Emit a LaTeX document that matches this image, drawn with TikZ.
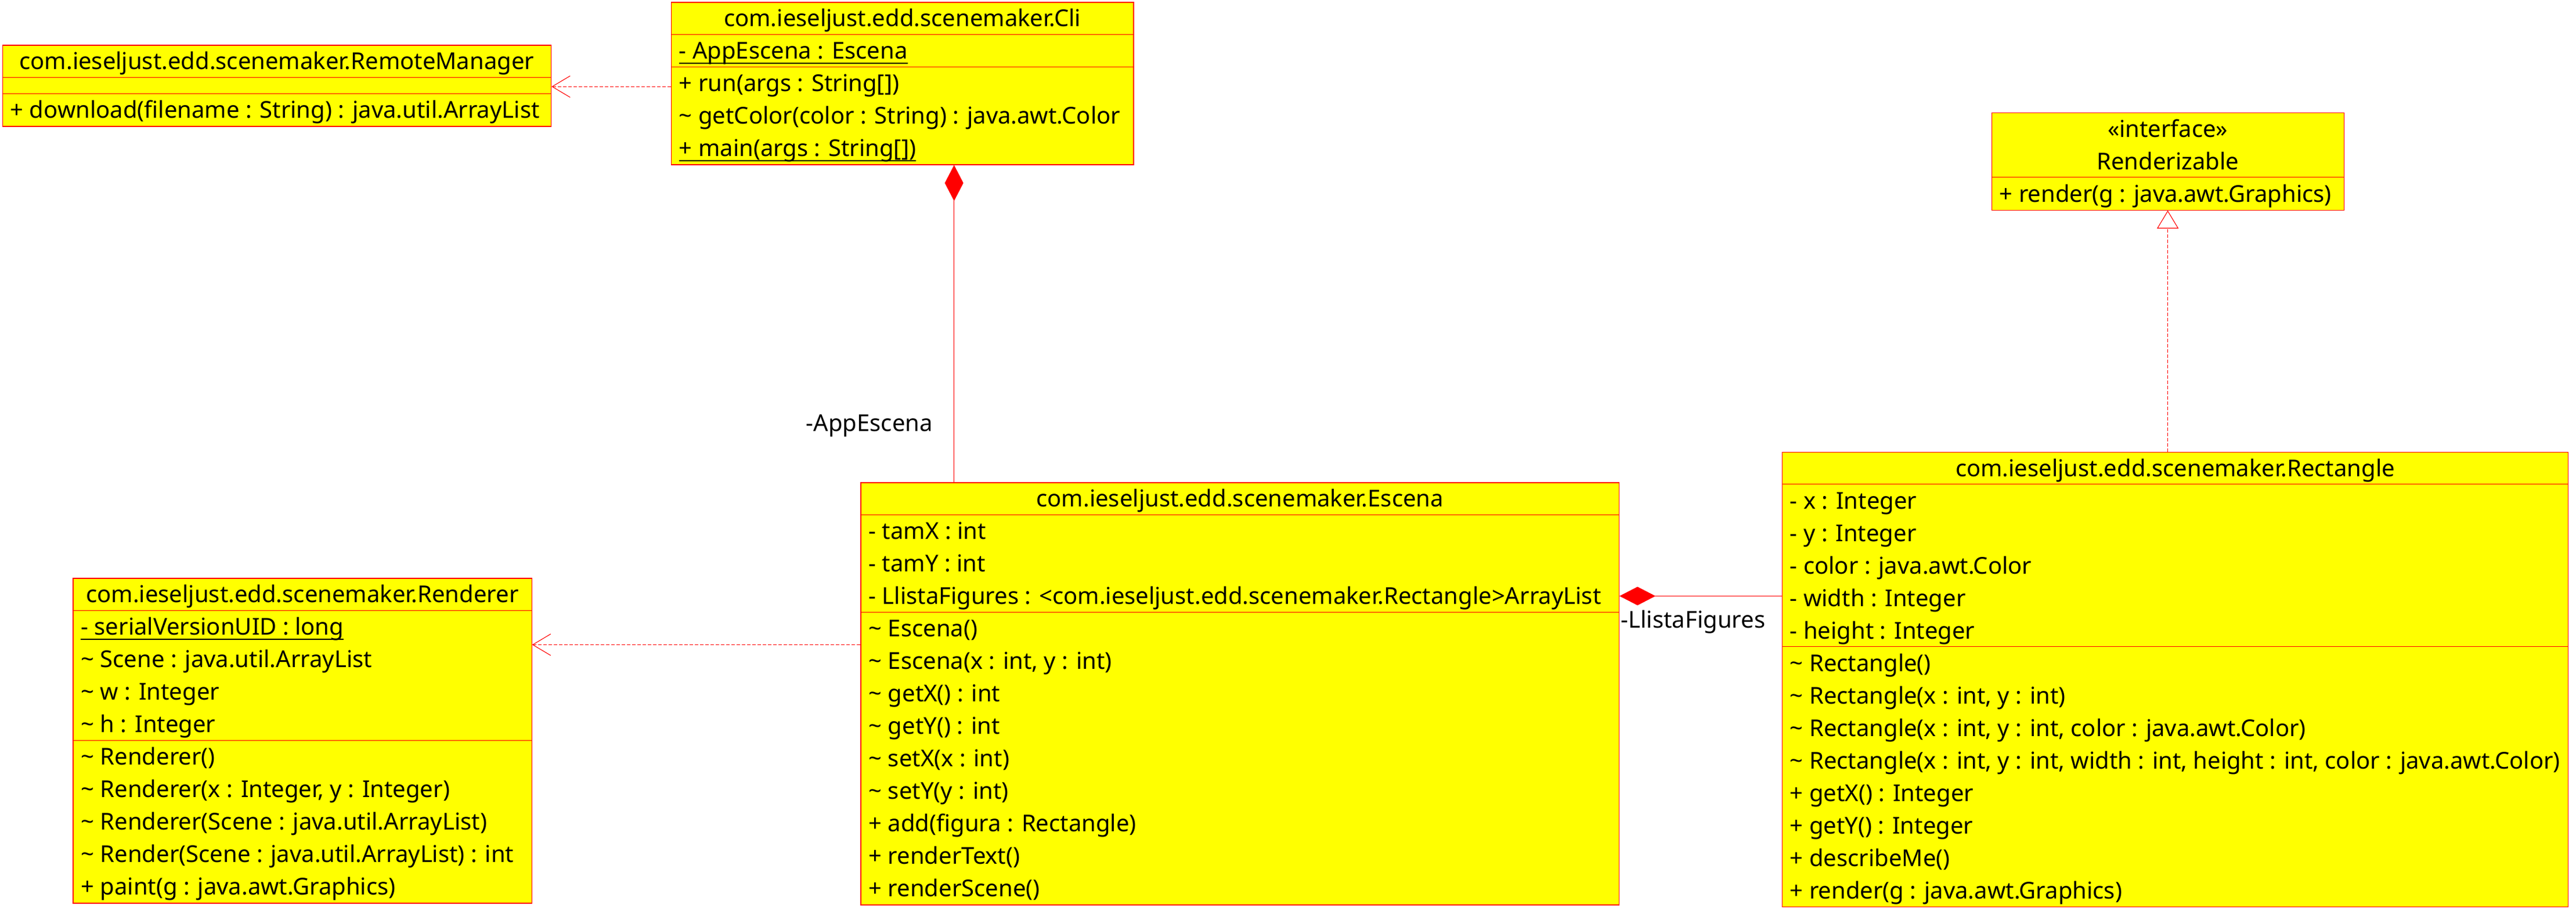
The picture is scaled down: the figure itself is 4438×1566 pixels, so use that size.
\documentclass[tikz,border=0pt]{standalone}
\usepackage{fontspec}
\setmainfont{Noto Sans}
\usetikzlibrary{arrows.meta,calc}
\definecolor{umlred}{RGB}{255,0,0}
\definecolor{umlyellow}{RGB}{255,255,0}
\tikzset{
  cls/.style={draw=umlred, fill=umlyellow, line width=1.2pt, rectangle, inner sep=0pt, anchor=north west},
  sepline/.style={draw=umlred, line width=1.2pt},
  hd/.style={anchor=base, inner sep=0pt, text=black},
  rw/.style={anchor=base west, inner sep=0pt, text=black},
  lbl/.style={inner sep=0pt, text=black},
  ulline/.style={draw=black, line width=2.6pt},
  conn/.style={draw=umlred, line width=1.1pt},
  depend/.style={conn, dash pattern=on 6pt off 3pt, -{Straight Barb[length=31pt,width=37pt]}},
  realize/.style={conn, dash pattern=on 6pt off 3pt, -{Triangle[length=31pt,width=37pt,fill=white]}},
  compose/.style={conn, {Diamond[length=62pt,width=32pt]}-},
}
\newcommand{\umlhead}[3]{\node[hd] (#1) at ($(#2.north)+(0,#3)$) {\strut};}
\newcommand{\umlrow}[4]{\node[rw] (#1) at ($(#2.north west)+(14,#3)$) {#4};}
\newcommand{\umltitle}[4]{\node[hd] (#1) at ($(#2.north)+(0,#3)$) {#4};}
\newcommand{\umlsep}[2]{\draw[sepline] ($(#1.north west)+(0,#2)$) -- ($(#1.north east)+(0,#2)$);}
\newcommand{\umlul}[1]{\draw[ulline] ([yshift=-7pt]#1.base west) -- ([yshift=-7pt]#1.base east);}
\newcommand{\tild}{\textasciitilde}
\begin{document}
\begin{tikzpicture}[x=1pt,y=-1pt,every node/.style={font=\fontsize{40}{56}\selectfont}]
\useasboundingbox (0,0) rectangle (4438,1566);

% ---------- RemoteManager ----------
\node[cls, minimum width=945.5pt, minimum height=140pt] (rm) at (3.5,77.3) {};
\umlsep{rm}{56}
\umlsep{rm}{84}
\umltitle{rmh}{rm}{42.5}{com.ieseljust.edd.scenemaker.RemoteManager}
\umlrow{rmm1}{rm}{126.5}{+ download(filename : String) : java.util.ArrayList}

% ---------- Cli ----------
\node[cls, minimum width=796.7pt, minimum height=280pt] (cli) at (1155.7,3.3) {};
\umlsep{cli}{56}
\umlsep{cli}{112}
\umltitle{clih}{cli}{42.5}{com.ieseljust.edd.scenemaker.Cli}
\umlrow{clia1}{cli}{98.5}{- AppEscena : Escena}
\umlul{clia1}
\umlrow{clim1}{cli}{154.5}{+ run(args : String[])}
\umlrow{clim2}{cli}{210.5}{\tild{} getColor(color : String) : java.awt.Color}
\umlrow{clim3}{cli}{266.5}{+ main(args : String[])}
\umlul{clim3}

% ---------- Renderizable ----------
\node[cls, minimum width=607.1pt, minimum height=168pt] (rzb) at (3430.5,193.6) {};
\umlsep{rzb}{112}
\umltitle{rzbs}{rzb}{42.5}{«interface»}
\umltitle{rzbh}{rzb}{98.5}{Renderizable}
\umlrow{rzbm1}{rzb}{154.5}{+ render(g : java.awt.Graphics)}

% ---------- Rectangle ----------
\node[cls, minimum width=1354.3pt, minimum height=784pt] (rect) at (3069.7,778.6) {};
\umlsep{rect}{56}
\umlsep{rect}{336}
\umltitle{recth}{rect}{42.5}{com.ieseljust.edd.scenemaker.Rectangle}
\umlrow{recta1}{rect}{98.5}{- x : Integer}
\umlrow{recta2}{rect}{154.5}{- y : Integer}
\umlrow{recta3}{rect}{210.5}{- color : java.awt.Color}
\umlrow{recta4}{rect}{266.5}{- width : Integer}
\umlrow{recta5}{rect}{322.5}{- height : Integer}
\umlrow{rectm1}{rect}{378.5}{\tild{} Rectangle()}
\umlrow{rectm2}{rect}{434.5}{\tild{} Rectangle(x : int, y : int)}
\umlrow{rectm3}{rect}{490.5}{\tild{} Rectangle(x : int, y : int, color : java.awt.Color)}
\umlrow{rectm4}{rect}{546.5}{\tild{} Rectangle(x : int, y : int, width : int, height : int, color : java.awt.Color)}
\umlrow{rectm5}{rect}{602.5}{+ getX() : Integer}
\umlrow{rectm6}{rect}{658.5}{+ getY() : Integer}
\umlrow{rectm7}{rect}{714.5}{+ describeMe()}
\umlrow{rectm8}{rect}{770.5}{+ render(g : java.awt.Graphics)}

% ---------- Escena ----------
\node[cls, minimum width=1306.5pt, minimum height=728pt] (esc) at (1482.4,831.4) {};
\umlsep{esc}{56}
\umlsep{esc}{224}
\umltitle{esch}{esc}{42.5}{com.ieseljust.edd.scenemaker.Escena}
\umlrow{esca1}{esc}{98.5}{- tamX : int}
\umlrow{esca2}{esc}{154.5}{- tamY : int}
\umlrow{esca3}{esc}{210.5}{- LlistaFigures : <com.ieseljust.edd.scenemaker.Rectangle>ArrayList}
\umlrow{escm1}{esc}{266.5}{\tild{} Escena()}
\umlrow{escm2}{esc}{322.5}{\tild{} Escena(x : int, y : int)}
\umlrow{escm3}{esc}{378.5}{\tild{} getX() : int}
\umlrow{escm4}{esc}{434.5}{\tild{} getY() : int}
\umlrow{escm5}{esc}{490.5}{\tild{} setX(x : int)}
\umlrow{escm6}{esc}{546.5}{\tild{} setY(y : int)}
\umlrow{escm7}{esc}{602.5}{+ add(figura : Rectangle)}
\umlrow{escm8}{esc}{658.5}{+ renderText()}
\umlrow{escm9}{esc}{714.5}{+ renderScene()}

% ---------- Renderer ----------
\node[cls, minimum width=790.2pt, minimum height=560pt] (rend) at (125.3,996.4) {};
\umlsep{rend}{56}
\umlsep{rend}{280}
\umltitle{rendh}{rend}{42.5}{com.ieseljust.edd.scenemaker.Renderer}
\umlrow{renda1}{rend}{98.5}{- serialVersionUID : long}
\umlul{renda1}
\umlrow{renda2}{rend}{154.5}{\tild{} Scene : java.util.ArrayList}
\umlrow{renda3}{rend}{210.5}{\tild{} w : Integer}
\umlrow{renda4}{rend}{266.5}{\tild{} h : Integer}
\umlrow{rendm1}{rend}{322.5}{\tild{} Renderer()}
\umlrow{rendm2}{rend}{378.5}{\tild{} Renderer(x : Integer, y : Integer)}
\umlrow{rendm3}{rend}{434.5}{\tild{} Renderer(Scene : java.util.ArrayList)}
\umlrow{rendm4}{rend}{490.5}{\tild{} Render(Scene : java.util.ArrayList) : int}
\umlrow{rendm5}{rend}{546.5}{+ paint(g : java.awt.Graphics)}

% ---------- connectors ----------
\coordinate (cliL) at ($(cli.north west)+(0,146)$);
\draw[depend] (cliL) -- (cliL -| rm.east);

\coordinate (escL) at ($(esc.north west)+(0,280)$);
\draw[depend] (escL) -- (escL -| rend.east);

\coordinate (cliB) at ($(cli.south west)+(488,0)$);
\draw[compose] (cliB) -- (cliB |- esc.north);
\node[lbl, anchor=base east] (lblapp) at ($(esc.north west)+(124.6,-88.1)$) {-AppEscena};

\coordinate (escR) at ($(esc.north east)+(0,196.1)$);
\draw[compose] (escR) -- (escR -| rect.west);
\node[lbl, anchor=base west] (lbllf) at ($(esc.north east)+(2.5,250.8)$) {-LlistaFigures};

\draw[realize] (rzb.south |- rect.north) -- (rzb.south);
\end{tikzpicture}
\end{document}
